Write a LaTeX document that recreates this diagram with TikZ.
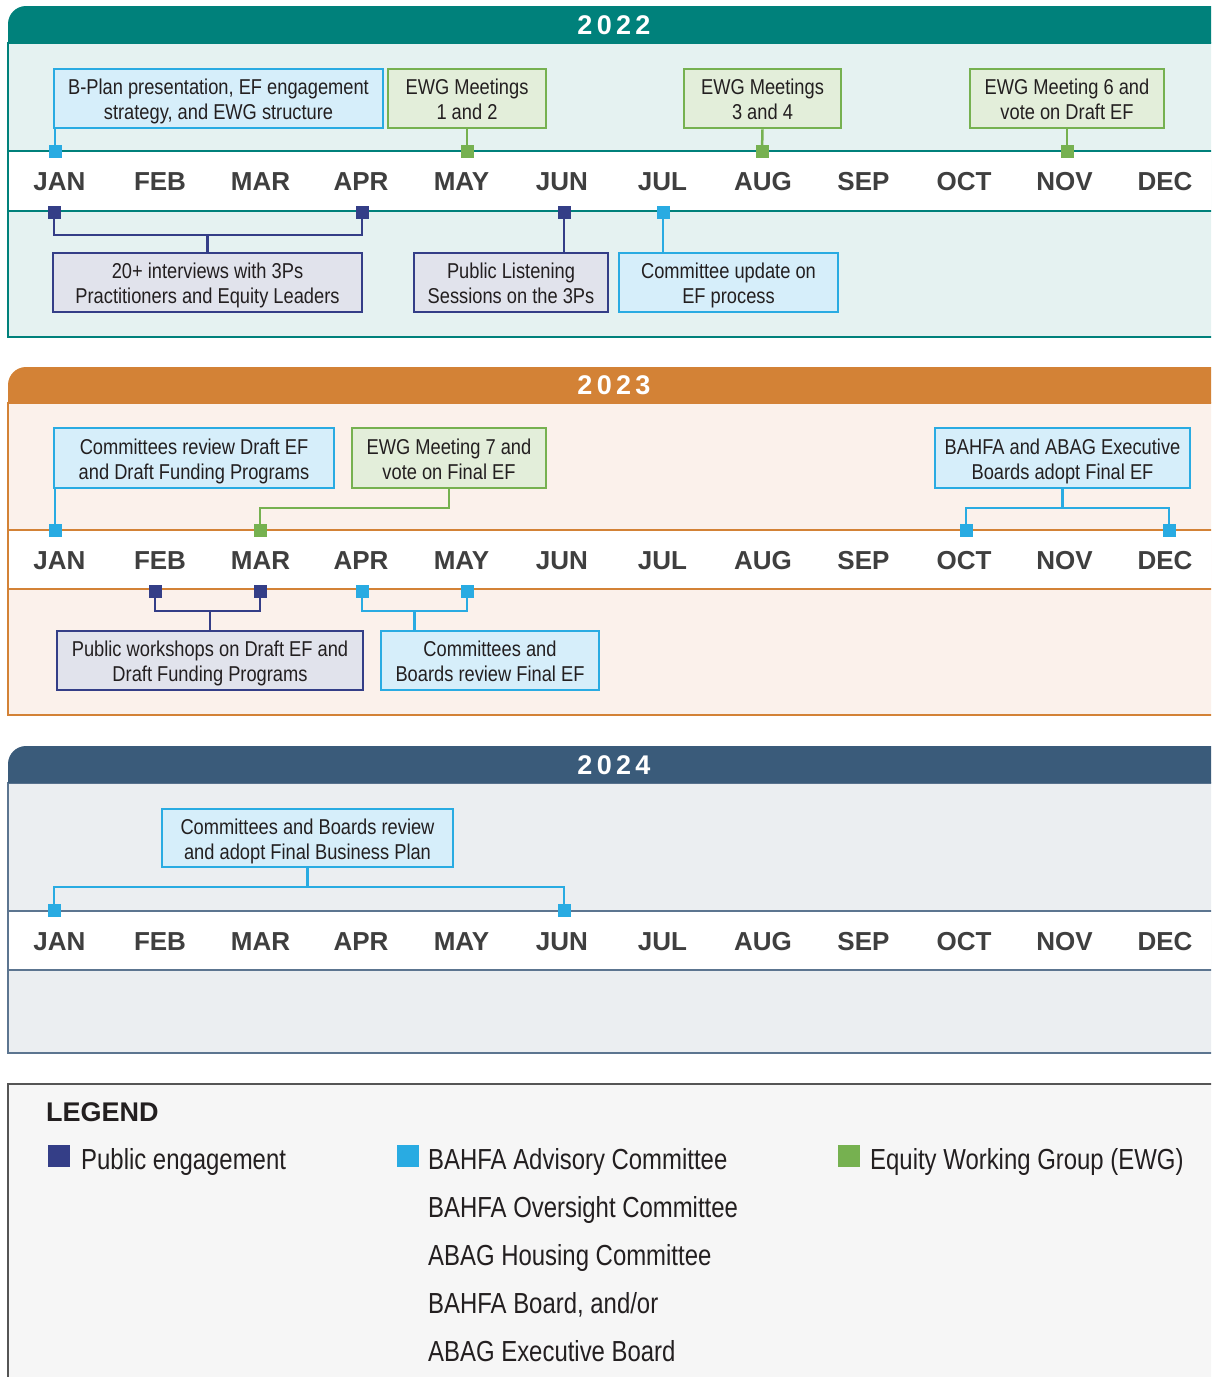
\documentclass[tikz,border=0pt]{standalone}
\usepackage{fontspec}
\setmainfont{Liberation Sans}
\newfontfamily\condf[FakeStretch=0.85]{Liberation Sans}
\newfontfamily\legf[FakeStretch=0.825]{Liberation Sans}
\newfontfamily\yearf[LetterSpace=16]{Liberation Sans}
\definecolor{teal22}{HTML}{00817B}
\definecolor{tealbg}{HTML}{E5F2F1}
\definecolor{org23}{HTML}{D38236}
\definecolor{orgbg}{HTML}{FBF1EB}
\definecolor{sl24}{HTML}{3A5B7A}
\definecolor{slbg}{HTML}{EBEEF1}
\definecolor{slline}{HTML}{5C7590}
\definecolor{cblue}{HTML}{29ABE2}
\definecolor{cbluebg}{HTML}{D6EEFA}
\definecolor{cgreen}{HTML}{76B150}
\definecolor{cgreenbg}{HTML}{E3EEDA}
\definecolor{cnavy}{HTML}{343E87}
\definecolor{cnavybg}{HTML}{E1E3EC}
\definecolor{mtext}{HTML}{3F3F3F}
\definecolor{legbg}{HTML}{F6F6F6}
\definecolor{legline}{HTML}{555555}
\definecolor{btext}{HTML}{231F20}
\tikzset{
  evbox/.style={draw, line width=2.6pt, inner sep=0pt, align=center,
    font=\condf\fontsize{21.5}{25}\selectfont, text=btext,
    text height=42pt, text depth=0pt},
  bbox/.style={evbox, draw=cblue, fill=cbluebg},
  gbox/.style={evbox, draw=cgreen, fill=cgreenbg},
  nbox/.style={evbox, draw=cnavy, fill=cnavybg},
  mk/.style={minimum size=13pt, inner sep=0pt, outer sep=0pt},
  conn/.style={line width=2.5pt},
  month/.style={font=\bfseries\fontsize{26}{26}\selectfont, text=mtext},
  yearlbl/.style={font=\yearf\bfseries\fontsize{27}{27}\selectfont, text=white},
  legtxt/.style={font=\legf\fontsize{29}{29}\selectfont, text=btext, anchor=base west, inner sep=0pt},
  legsq/.style={minimum width=22pt, minimum height=22pt, inner sep=0pt},
}
\begin{document}
\begin{tikzpicture}[x=1pt,y=-1pt]
\useasboundingbox (0,0) rectangle (1211,1377);
\clip (0,0) rectangle (1211,1377);

% ===== 2022 panel =====
\fill[tealbg] (8,43) rectangle (1240,337);
\fill[white] (8,151) rectangle (1240,211);
\draw[teal22, line width=1.5pt] (1240,43) -- (8,43) -- (8,337) -- (1240,337);
\draw[teal22, line width=1.5pt] (8,151) -- (1240,151) (8,211) -- (1240,211);
\fill[teal22] (8,43) [rounded corners=18pt] -- (8,6) -- (1260,6) [sharp corners] -- (1260,43) -- cycle;
\node[yearlbl] (y22) at (614,25) {2022};

% ===== 2023 panel =====
\fill[orgbg] (8,403) rectangle (1240,715);
\fill[white] (8,530) rectangle (1240,589);
\draw[org23, line width=1.5pt] (1240,403) -- (8,403) -- (8,715) -- (1240,715);
\draw[org23, line width=1.5pt] (8,530) -- (1240,530) (8,589) -- (1240,589);
\fill[org23] (8,403) [rounded corners=18pt] -- (8,367) -- (1260,367) [sharp corners] -- (1260,403) -- cycle;
\node[yearlbl] (y23) at (614,385) {2023};

% ===== 2024 panel =====
\fill[slbg] (8,783) rectangle (1240,1053);
\fill[white] (8,911) rectangle (1240,970);
\draw[slline, line width=1.5pt] (1240,783) -- (8,783) -- (8,1053) -- (1240,1053);
\draw[slline, line width=1.5pt] (8,911) -- (1240,911) (8,970) -- (1240,970);
\fill[sl24] (8,783) [rounded corners=18pt] -- (8,746) -- (1260,746) [sharp corners] -- (1260,783) -- cycle;
\node[yearlbl] (y24) at (614,765) {2024};

% ===== months =====
\foreach \m [count=\i from 0] in {JAN,FEB,MAR,APR,MAY,JUN,JUL,AUG,SEP,OCT,NOV,DEC}{
  \node[month] (ma\i) at ({59.5+100.5*\i},181.5) {\m};
  \node[month] (mb\i) at ({59.5+100.5*\i},560.5) {\m};
  \node[month] (mc\i) at ({59.5+100.5*\i},941.5) {\m};
}

% ===== 2022 boxes =====
\node[bbox, minimum width=329pt, minimum height=59pt] (b1) at (218.5,98.5) {B-Plan presentation, EF engagement\\strategy, and EWG structure};
\node[gbox, minimum width=158pt, minimum height=59pt] (g1) at (467,98.5) {EWG Meetings\\1 and 2};
\node[gbox, minimum width=157pt, minimum height=59pt] (g2) at (762.5,98.5) {EWG Meetings\\3 and 4};
\node[gbox, minimum width=194pt, minimum height=59pt] (g3) at (1067,98.5) {EWG Meeting 6 and\\vote on Draft EF};
\node[nbox, minimum width=309pt, minimum height=59pt] (n1) at (207.5,282.5) {20+ interviews with 3Ps\\Practitioners and Equity Leaders};
\node[nbox, minimum width=194pt, minimum height=59pt] (n2) at (511,282.5) {Public Listening\\Sessions on the 3Ps};
\node[bbox, minimum width=219pt, minimum height=59pt] (b2) at (728.5,282.5) {Committee update on\\EF process};

% markers 2022
\coordinate (ka1) at (55,151);
\coordinate (ka2) at (467,151);
\coordinate (ka3) at (762,151);
\coordinate (ka4) at (1067,151);
\coordinate (ka5) at (54,212);
\coordinate (ka6) at (362,212);
\coordinate (ka7) at (564,212);
\coordinate (ka8) at (663,212);
\coordinate (ja1) at (207.5,235);

\draw[conn, cblue] (ka1) -- (ka1 |- b1.south);
\draw[conn, cgreen] (g1.south) -- (ka2);
\draw[conn, cgreen] (g2.south) -- (ka3);
\draw[conn, cgreen] (g3.south) -- (ka4);
\draw[conn, cnavy] (ka5) |- (ja1) -| (ka6);
\draw[conn, cnavy] (ja1) -- (n1.north);
\draw[conn, cnavy] (ka7) -- (ka7 |- n2.north);
\draw[conn, cblue] (ka8) -- (ka8 |- b2.north);

\node[mk, fill=cblue] (qa1) at (ka1) {};
\node[mk, fill=cgreen] (qa2) at (ka2) {};
\node[mk, fill=cgreen] (qa3) at (ka3) {};
\node[mk, fill=cgreen] (qa4) at (ka4) {};
\node[mk, fill=cnavy] (qa5) at (ka5) {};
\node[mk, fill=cnavy] (qa6) at (ka6) {};
\node[mk, fill=cnavy] (qa7) at (ka7) {};
\node[mk, fill=cblue] (qa8) at (ka8) {};

% ===== 2023 boxes =====
\node[bbox, minimum width=280pt, minimum height=60pt] (b3) at (194,458) {Committees review Draft EF\\and Draft Funding Programs};
\node[gbox, minimum width=194pt, minimum height=60pt] (g4) at (449,458) {EWG Meeting 7 and\\vote on Final EF};
\node[bbox, minimum width=255pt, minimum height=60pt] (b4) at (1062.5,458) {BAHFA and ABAG Executive\\Boards adopt Final EF};
\node[nbox, minimum width=306pt, minimum height=59pt] (n3) at (210,660.5) {Public workshops on Draft EF and\\Draft Funding Programs};
\node[bbox, minimum width=218pt, minimum height=59pt] (b5) at (490,660.5) {Committees and\\Boards review Final EF};

\coordinate (kb1) at (55,530);
\coordinate (kb2) at (260,530);
\coordinate (kb3) at (966,530);
\coordinate (kb4) at (1169,530);
\coordinate (kb5) at (155,591);
\coordinate (kb6) at (260,591);
\coordinate (kb7) at (362,591);
\coordinate (kb8) at (467,591);
\coordinate (jb1) at (449,508);
\coordinate (jb2) at (1062.5,508);
\coordinate (jb3) at (210,611);
\coordinate (jb4) at (414.5,611);

\draw[conn, cblue] (kb1) -- (kb1 |- b3.south);
\draw[conn, cgreen] (g4.south) -- (jb1) -| (kb2);
\draw[conn, cblue] (b4.south) -- (jb2);
\draw[conn, cblue] (kb3) |- (jb2) -| (kb4);
\draw[conn, cnavy] (kb5) |- (jb3) -| (kb6);
\draw[conn, cnavy] (jb3) -- (n3.north);
\draw[conn, cblue] (kb7) |- (jb4) -| (kb8);
\draw[conn, cblue] (jb4) -- (jb4 |- b5.north);

\node[mk, fill=cblue] (qb1) at (kb1) {};
\node[mk, fill=cgreen] (qb2) at (kb2) {};
\node[mk, fill=cblue] (qb3) at (kb3) {};
\node[mk, fill=cblue] (qb4) at (kb4) {};
\node[mk, fill=cnavy] (qb5) at (kb5) {};
\node[mk, fill=cnavy] (qb6) at (kb6) {};
\node[mk, fill=cblue] (qb7) at (kb7) {};
\node[mk, fill=cblue] (qb8) at (kb8) {};

% ===== 2024 boxes =====
\node[bbox, minimum width=291pt, minimum height=58pt] (b6) at (307.5,838) {Committees and Boards review\\and adopt Final Business Plan};
\coordinate (kc1) at (54,910);
\coordinate (kc2) at (564,910);
\coordinate (jc1) at (307.5,887);
\draw[conn, cblue] (b6.south) -- (jc1);
\draw[conn, cblue] (kc1) |- (jc1) -| (kc2);
\node[mk, fill=cblue] (qc1) at (kc1) {};
\node[mk, fill=cblue] (qc2) at (kc2) {};

% ===== legend =====
\fill[legbg] (8,1084) rectangle (1240,1400);
\draw[legline, line width=1.5pt] (8,1400) -- (8,1084) -- (1240,1084);
\node[font=\bfseries\fontsize{27}{27}\selectfont, text=btext, anchor=base west, inner sep=0pt] (leg) at (46,1121) {LEGEND};
\node[legsq, fill=cnavy] (s1) at (59,1156) {};
\node[legtxt] (t1) at (81,1169) {Public engagement};
\node[legsq, fill=cblue] (s2) at (408,1156) {};
\node[legtxt] (t2) at (428,1169) {BAHFA Advisory Committee};
\node[legtxt] (t3) at (428,1217) {BAHFA Oversight Committee};
\node[legtxt] (t4) at (428,1265) {ABAG Housing Committee};
\node[legtxt] (t5) at (428,1313) {BAHFA Board, and/or};
\node[legtxt] (t6) at (428,1361) {ABAG Executive Board};
\node[legsq, fill=cgreen] (s3) at (849,1156) {};
\node[legtxt] (t7) at (870,1169) {Equity Working Group (EWG)};
\end{tikzpicture}
\end{document}
